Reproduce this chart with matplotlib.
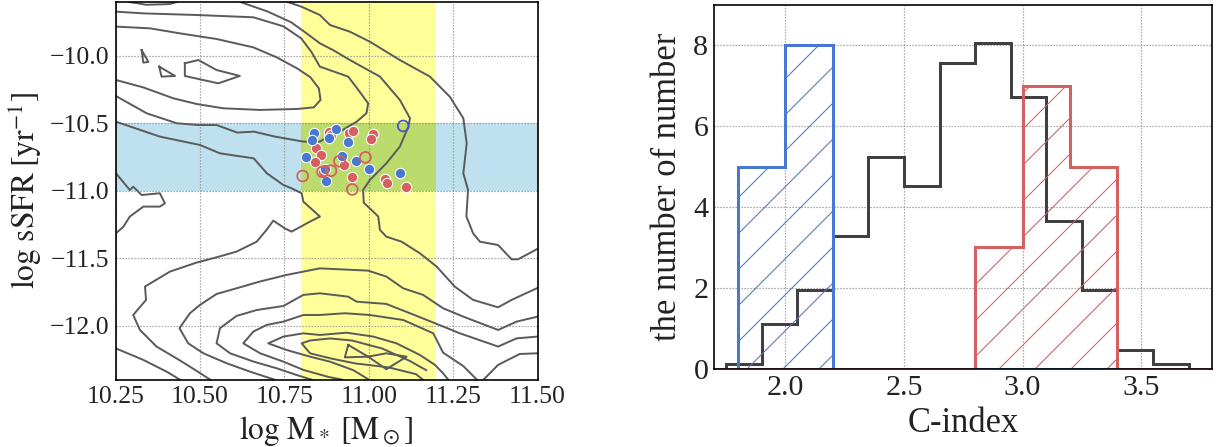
import matplotlib
matplotlib.use('Agg')
import matplotlib.pyplot as plt

plt.rcParams['font.family'] = ['Liberation Serif', 'DejaVu Serif']
plt.rcParams['mathtext.fontset'] = 'stix'
plt.rcParams['hatch.linewidth'] = 0.35

# ---------------- left panel data ----------------
mass_band = (10.8, 11.2)
ssfr_band = (-11.0, -10.5)

# galaxy density contours, traced by eye (log M*, log sSFR)
line_a = [(10.76, -9.60), (10.80, -9.634), (10.855, -9.696), (10.885, -9.770), (10.944, -9.820),
          (11.003, -9.894), (11.092, -10.030), (11.181, -10.153), (11.240, -10.302), (11.280, -10.462),
          (11.290, -10.648), (11.280, -10.870), (11.294, -10.994), (11.289, -11.19), (11.309, -11.315),
          (11.329, -11.377), (11.383, -11.402), (11.423, -11.508), (11.442, -11.508), (11.50, -11.43)]
line_a_top = [(10.29, -9.60), (10.31, -9.607), (10.34, -9.62), (10.41, -9.615), (10.43, -9.60)]
line_b = [(10.62, -9.60), (10.70, -9.67), (10.77, -9.75), (10.82, -9.84), (10.855, -9.906),
          (10.894, -9.956), (10.944, -10.030), (11.033, -10.153), (11.092, -10.326), (11.122, -10.462),
          (11.117, -10.524), (11.092, -10.672), (11.052, -10.796), (11.003, -10.920), (10.983, -10.994),
          (10.985, -11.088), (11.013, -11.154), (11.028, -11.191), (11.033, -11.290), (11.052, -11.340),
          (11.097, -11.377), (11.151, -11.463), (11.201, -11.562), (11.255, -11.711), (11.309, -11.809),
          (11.383, -11.864), (11.423, -11.809), (11.50, -11.72)]
line_c = [(10.251, -9.671), (10.332, -9.684), (10.490, -9.696), (10.658, -9.713), (10.747, -9.78),
          (10.80, -9.87), (10.83, -9.97), (10.855, -10.079), (10.939, -10.153), (10.969, -10.252),
          (10.998, -10.351), (10.993, -10.425), (10.964, -10.487), (10.914, -10.561), (10.880, -10.598),
          (10.855, -10.635), (10.806, -10.635), (10.722, -10.598), (10.660, -10.561), (10.610, -10.568),
          (10.549, -10.512), (10.495, -10.512), (10.431, -10.499), (10.342, -10.425), (10.251, -10.297)]
line_u = [(10.251, -9.782), (10.352, -9.795), (10.440, -9.832), (10.549, -9.874), (10.658, -9.936),
          (10.727, -10.010), (10.787, -10.091), (10.827, -10.158), (10.852, -10.240), (10.857, -10.326),
          (10.837, -10.381), (10.787, -10.393), (10.677, -10.400), (10.569, -10.388), (10.490, -10.356),
          (10.421, -10.314), (10.332, -10.233), (10.251, -10.178)]
tri_1 = [(10.327, -9.956), (10.332, -10.049), (10.347, -10.044), (10.327, -9.956)]
tri_2 = [(10.379, -10.079), (10.386, -10.153), (10.426, -10.148), (10.379, -10.079)]
poly_3 = [(10.455, -10.054), (10.495, -10.030), (10.549, -10.104), (10.618, -10.148),
          (10.554, -10.203), (10.455, -10.148), (10.455, -10.054)]
line_d = [(10.251, -10.487), (10.381, -10.598), (10.500, -10.660), (10.559, -10.722), (10.659, -10.759),
          (10.698, -10.870), (10.747, -10.957), (10.771, -10.981), (10.801, -11.018), (10.806, -11.080),
          (10.855, -11.191), (10.826, -11.228), (10.771, -11.303), (10.751, -11.278), (10.717, -11.221),
          (10.697, -11.290), (10.668, -11.377), (10.608, -11.451), (10.549, -11.493), (10.490, -11.532),
          (10.411, -11.599), (10.337, -11.710), (10.340, -11.809), (10.302, -11.921), (10.322, -12.032),
          (10.371, -12.155), (10.430, -12.242), (10.47, -12.304), (10.53, -12.40)]
line_bump = [(10.251, -10.870), (10.292, -10.994), (10.302, -10.969), (10.327, -11.031), (10.381, -11.018),
             (10.396, -11.093), (10.381, -11.117), (10.332, -11.117), (10.292, -11.191), (10.273, -11.266),
             (10.251, -11.315)]
line_e = [(10.25, -12.168), (10.332, -12.254), (10.401, -12.341), (10.44, -12.40)]
line_f = [(11.50, -11.933), (11.438, -11.970), (11.383, -12.032), (11.280, -11.933), (11.220, -11.871),
          (11.161, -11.772), (11.102, -11.723), (11.052, -11.636), (10.998, -11.592), (10.914, -11.582),
          (10.855, -11.575), (10.756, -11.624), (10.677, -11.673), (10.608, -11.723), (10.549, -11.765),
          (10.500, -11.846), (10.470, -11.908), (10.439, -12.019), (10.465, -12.131), (10.510, -12.205),
          (10.579, -12.279), (10.648, -12.341), (10.72, -12.40)]
line_g = [(11.50, -12.081), (11.438, -12.094), (11.383, -12.155), (11.270, -12.057), (11.196, -11.982),
          (11.122, -11.908), (11.052, -11.839), (10.964, -11.822), (10.939, -11.785), (10.855, -11.760),
          (10.806, -11.772), (10.747, -11.854), (10.668, -11.884), (10.608, -11.928), (10.559, -12.019),
          (10.549, -12.131), (10.589, -12.205), (10.659, -12.267), (10.727, -12.316), (10.786, -12.366),
          (10.83, -12.40)]
line_h = [(11.32, -12.40), (11.28, -12.30), (11.22, -12.20), (11.191, -12.057), (11.102, -11.958),
          (11.003, -11.921), (10.929, -11.908), (10.855, -11.921), (10.806, -11.921), (10.747, -11.970),
          (10.697, -11.995), (10.658, -12.044), (10.628, -12.131), (10.678, -12.205), (10.747, -12.267),
          (10.806, -12.328), (10.88, -12.38), (10.92, -12.40)]
line_i = [(11.235, -12.40), (11.220, -12.353), (11.196, -12.291), (11.151, -12.217), (11.082, -12.131),
          (11.013, -12.081), (10.934, -12.052), (10.855, -12.069), (10.806, -12.057), (10.747, -12.081),
          (10.702, -12.131), (10.756, -12.180), (10.826, -12.230), (10.885, -12.267), (10.954, -12.330),
          (11.0, -12.40)]
line_j = [(11.50, -12.205), (11.447, -12.210), (11.383, -12.291), (11.34, -12.40)]
line_k = [(11.17, -12.33), (11.12, -12.26), (11.04, -12.17), (10.95, -12.11), (10.885, -12.095),
          (10.826, -12.110), (10.801, -12.131), (10.826, -12.205), (10.885, -12.242), (10.96, -12.28),
          (11.06, -12.31), (11.14, -12.36), (11.16, -12.40)]
bowtie_1 = [(10.939, -12.143), (10.998, -12.230), (10.929, -12.235), (10.939, -12.143)]
bowtie_2 = [(10.998, -12.230), (11.052, -12.205), (11.112, -12.230), (11.052, -12.323), (10.998, -12.230)]
contour_lines = [line_a, line_a_top, line_b, line_c, line_u, tri_1, tri_2, poly_3, line_d, line_bump,
                 line_e, line_f, line_g, line_h, line_i, line_j, line_k, bowtie_1, bowtie_2]

blue_x = [10.837, 10.833, 10.903, 10.883, 10.938, 10.814, 10.922, 10.871, 10.961, 11.000, 10.873, 11.093]
blue_y = [-10.569, -10.623, -10.544, -10.610, -10.640, -10.751, -10.739, -10.840, -10.781, -10.840, -10.929, -10.870]
red_x = [10.881, 10.889, 10.940, 10.953, 11.013, 11.006, 10.843, 10.858, 10.840, 10.927, 10.865, 10.951,
         11.049, 11.055, 11.109]
red_y = [-10.566, -10.583, -10.573, -10.554, -10.578, -10.613, -10.685, -10.736, -10.788, -10.808, -10.858,
         -10.895, -10.912, -10.944, -10.974]
red_open_x = [10.804, 10.863, 10.888, 10.913, 10.990, 10.951]
red_open_y = [-10.890, -10.859, -10.851, -10.780, -10.752, -10.990]
blue_open_x = [11.102]
blue_open_y = [-10.519]

mass_ticks = [10.25, 10.50, 10.75, 11.00, 11.25, 11.50]
ssfr_ticks = [-12.0, -11.5, -11.0, -10.5, -10.0]

# ---------------- right panel data ----------------
all_edges = [1.75, 1.90, 2.05, 2.20, 2.35, 2.50, 2.65, 2.80, 2.95, 3.10, 3.25, 3.40, 3.55, 3.70]
all_counts = [0.12, 1.09, 1.95, 3.29, 5.24, 4.51, 7.57, 8.05, 6.71, 3.65, 1.95, 0.47, 0.12]
blue_edges = [1.8, 2.0, 2.2, 2.4, 2.6, 2.8, 3.0, 3.2, 3.4]
blue_counts = [5, 8, 0, 0, 0, 0, 0, 0]
red_edges = [1.6, 1.8, 2.0, 2.2, 2.4, 2.6, 2.8, 3.0, 3.2, 3.4, 3.6, 3.8, 4.0]
red_counts = [0, 0, 0, 0, 0, 0, 3, 7, 5, 0, 0, 0]
cindex_ticks = [2.0, 2.5, 3.0, 3.5]
count_ticks = [0, 2, 4, 6, 8]

BLUE = '#4878CF'
RED = '#D65F5F'
GREY = '#404040'


def minus(s):
    return s.replace('-', '\u2212')


fig = plt.figure(figsize=(1216 / 216, 447 / 216), dpi=216)
ax1 = fig.add_axes([0.0951, 0.1508, 0.3470, 0.8446])
ax2 = fig.add_axes([0.5874, 0.1756, 0.4095, 0.8132])

for ax in (ax1, ax2):
    ax.set_axisbelow('line')
    ax.grid(True, color='#8c8c8c', lw=0.4, ls=(0, (1, 1.5)))
    for sp in ax.spines.values():
        sp.set_color('black')
        sp.set_linewidth(0.55)
        sp.set_zorder(5)

# --- left: sSFR vs stellar mass ---
ax1.axhspan(*ssfr_band, color='#BFE1EF', lw=0, zorder=0)
ax1.axvspan(*mass_band, color='#FFFF9A', lw=0, zorder=0)
ax1.fill_between(mass_band, ssfr_band[0], ssfr_band[1], color='#BBDB6D', lw=0, zorder=0.2)

for line in contour_lines:
    xs, ys = zip(*line)
    ax1.plot(xs, ys, color='#5a5a5a', lw=0.65, zorder=2, solid_joinstyle='round')

ax1.scatter(red_x, red_y, s=12, color=RED, edgecolor='white', linewidth=0.35, zorder=3)
ax1.scatter(blue_x, blue_y, s=12, color=BLUE, edgecolor='white', linewidth=0.35, zorder=3.1)
ax1.scatter(red_open_x, red_open_y, s=13, facecolor='none', edgecolor=RED, linewidth=0.6, zorder=3.2)
ax1.scatter(blue_open_x, blue_open_y, s=13, facecolor='none', edgecolor='#4B56C4', linewidth=0.6, zorder=3.2)

ax1.set_xlim(10.25, 11.5)
ax1.set_ylim(-12.4, -9.6)
ax1.set_xticks(mass_ticks, labels=[f'{v:.2f}' for v in mass_ticks])
ax1.set_yticks(ssfr_ticks, labels=[minus(f'{v:.1f}') for v in ssfr_ticks])
ax1.tick_params(length=0, pad=2, labelsize=8.6, colors='#222222')
ax1.set_xlabel(r'$\log\,\mathrm{M}_*\;[\mathrm{M}_\odot]$', fontsize=10.5, color='#222222', labelpad=2)
ax1.set_ylabel(r'$\log\,\mathrm{sSFR}\;[\mathrm{yr}^{-1}]$', fontsize=10.5, color='#222222', labelpad=2)

# --- right: C-index histograms ---
ax2.stairs(all_counts, all_edges, color=GREY, lw=1.0, zorder=2)
ax2.stairs(blue_counts, blue_edges, fill=False, hatch='//', edgecolor=BLUE, lw=1.0, zorder=3)
ax2.stairs(red_counts, red_edges, fill=False, hatch='//', edgecolor=RED, lw=1.0, zorder=4)

ax2.set_xlim(1.7, 3.8)
ax2.set_ylim(0, 9)
ax2.set_xticks(cindex_ticks, labels=[f'{v:.1f}' for v in cindex_ticks])
ax2.set_yticks(count_ticks)
ax2.tick_params(length=0, pad=2, labelsize=10, colors='#222222')
ax2.set_xlabel('C-index', fontsize=11.5, color='#222222', labelpad=2)
ax2.set_ylabel('the number of number', fontsize=11.5, color='#222222', labelpad=3)

fig.savefig('out.png', dpi=216)
